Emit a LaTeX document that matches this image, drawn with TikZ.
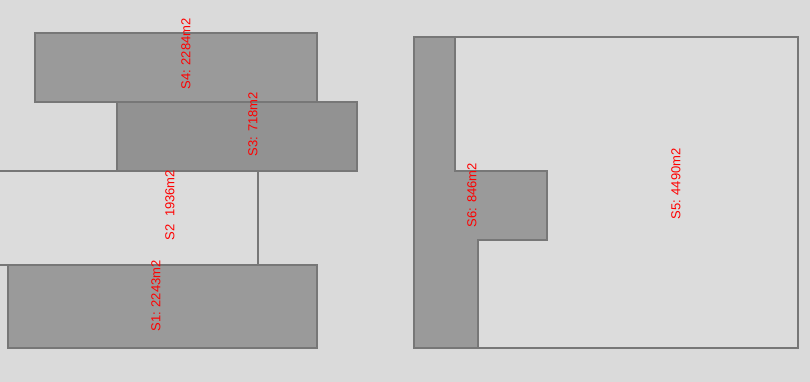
\documentclass[tikz,border=0pt]{standalone}
\usepackage{fontspec}
\setmainfont{Liberation Sans}
\usepackage{xcolor}
\usetikzlibrary{positioning}
\definecolor{bgplan}{HTML}{DADADA}
\definecolor{lotlight}{HTML}{DCDCDC}
\definecolor{lotmid}{HTML}{9A9A9A}
\definecolor{lotdark}{HTML}{929292}
\definecolor{lotedge}{HTML}{777777}
\definecolor{lotlabel}{HTML}{FF0000}

\begin{document}
\begin{tikzpicture}[
    x=1pt, y=-1pt,
    lot/.style={draw=lotedge, line width=1.2pt, fill=#1},
    area/.style={text=lotlabel, rotate=90, inner sep=0pt, font=\fontsize{13}{15}\selectfont},
]
    % canvas
    \fill[bgplan] (0,0) rectangle (810,382);
    \useasboundingbox (0,0) rectangle (810,382);

    % Left block
    \draw[lot=lotlight] (-5,171) rectangle (258,265);
    \draw[lot=lotmid] (35,33) rectangle (317,102);
    \draw[lot=lotdark] (117,102) rectangle (357,171);
    \draw[lot=lotmid] (8,265) rectangle (317,348);
    \node[area] (s4) at (186,54) {S4: 2284m2};
    \node[area] (s3) at (253,124) {S3: 718m2};
    \node[area] (s2) at (170,205) {S2\ \ 1936m2};
    \node[area] (s1) at (156,296) {S1: 2243m2};

    % Right block
    \draw[lot=lotlight] (414,37) rectangle (798,348);
    \draw[lot=lotmid] (414,37) -- (455,37) -- (455,171) -- (547,171) -- (547,240)
        -- (478,240) -- (478,348) -- (414,348) -- cycle;
    \node[area] (s6) at (472,195) {S6: 846m2};
    \node[area] (s5) at (676,184) {S5: 4490m2};
\end{tikzpicture}
\end{document}
